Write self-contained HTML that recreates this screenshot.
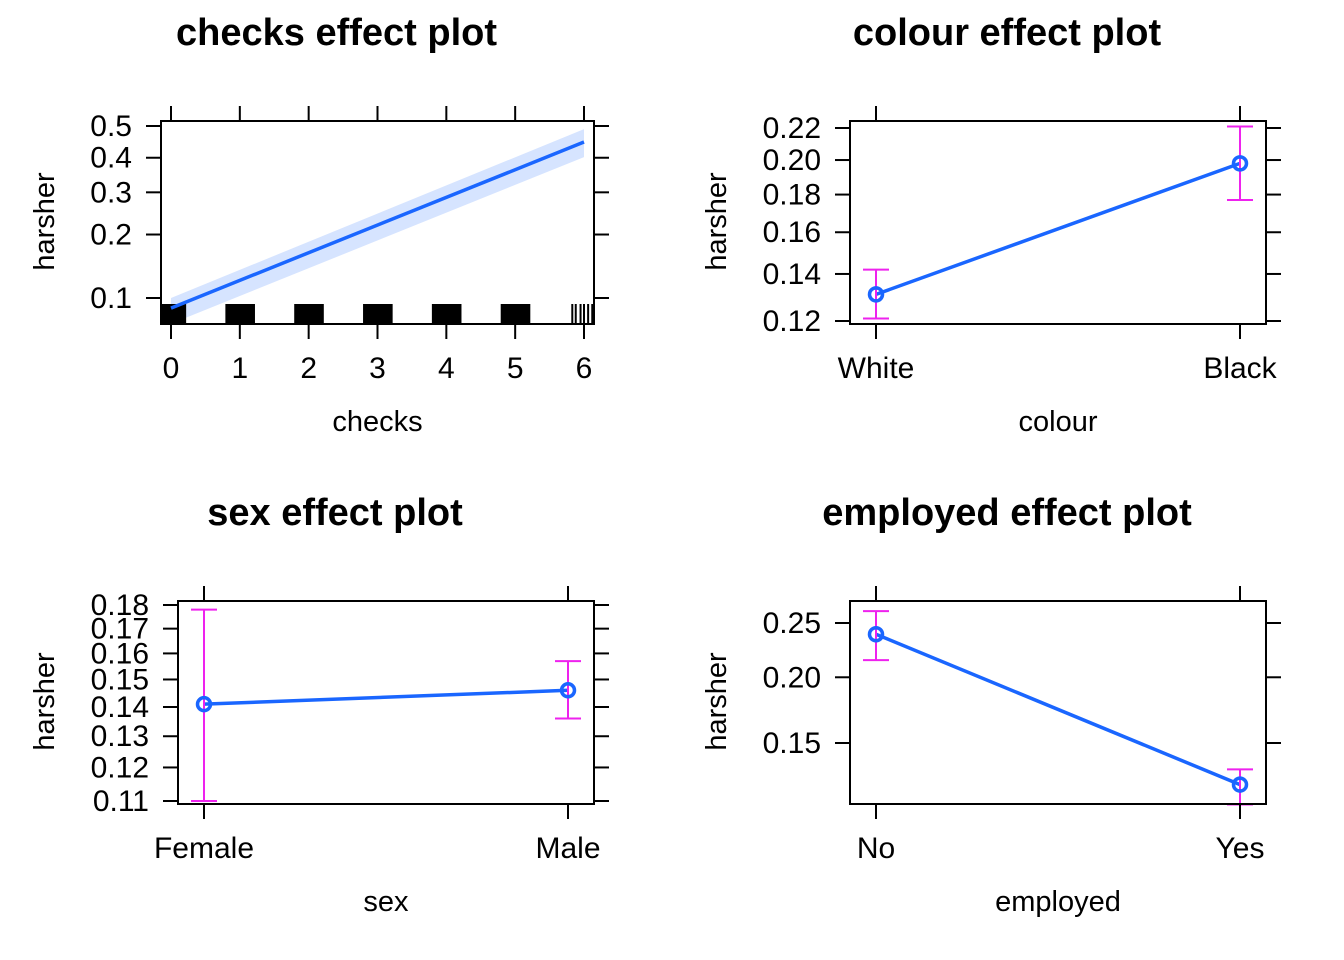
<!DOCTYPE html>
<html><head><meta charset="utf-8"><style>
body{margin:0;background:#fff}
svg{display:block;font-family:"Liberation Sans",Arial,sans-serif}
</style></head><body>
<svg id="c" width="1344" height="960"></svg>
<script>
// Panel 1: checks (continuous)
const checksTicks = [0,1,2,3,4,5,6];
const checksFitX = [0, 6];
const checksFit = [0.089, 0.449];
const checksLower = [0.074, 0.402];
const checksUpper = [0.100, 0.490];
const checksYTicks = [0.1,0.2,0.3,0.4,0.5];
const checksRugBlocks = [0,1,2,3,4,5];
const checksRugSparse = [5.83,5.88,5.95,6.0,6.06,6.12];
// Panel 2: colour
const colourCats = ["White","Black"];
const colourFit = [0.131,0.198];
const colourLo = [0.121,0.177];
const colourHi = [0.142,0.221];
const colourYTicks = [0.12,0.14,0.16,0.18,0.20,0.22];
// Panel 3: sex
const sexCats = ["Female","Male"];
const sexFit = [0.141,0.146];
const sexLo = [0.110,0.136];
const sexHi = [0.178,0.157];
const sexYTicks = [0.11,0.12,0.13,0.14,0.15,0.16,0.17,0.18];
// Panel 4: employed
const empCats = ["No","Yes"];
const empFit = [0.239,0.124];
const empLo = [0.215,0.113];
const empHi = [0.262,0.133];
const empYTicks = [0.15,0.20,0.25];

const NS="http://www.w3.org/2000/svg";
const svg=document.getElementById('c');
function el(tag,attrs,parent,text){const e=document.createElementNS(NS,tag);for(const k in attrs)e.setAttribute(k,attrs[k]);if(text!==undefined)e.textContent=text;(parent||svg).appendChild(e);return e;}
const logit=p=>Math.log(p/(1-p));
function yScale(v0,p0,v1,p1){const a=logit(v0),b=logit(v1);return v=>p0+(logit(v)-a)*(p1-p0)/(b-a);}

function frame(g,box,title,xlabel,yticks,ys,fmt,xt,xs,xlabels,name){
  const off=name==='checks'?-41:-51;
  const t=el('text',{x:(box.x0+box.x1)/2+off,y:box.y0-76,'font-size':38,'font-weight':'bold','text-anchor':'middle'},g,title);
  
  const r=el('rect',{x:box.x0,y:box.y0,width:box.x1-box.x0,height:box.y1-box.y0,fill:'none',stroke:'#000','stroke-width':2},g);
  
  yticks.forEach((v,i)=>{const y=ys(v);
    el('line',{x1:box.x0-15,x2:box.x0,y1:y,y2:y,stroke:'#000','stroke-width':2},g);
    el('line',{x1:box.x1,x2:box.x1+15,y1:y,y2:y,stroke:'#000','stroke-width':2},g);
    const tl=el('text',{x:box.x0-29,y:y+10,'font-size':30,'text-anchor':'end'},g,fmt(v));
    });
  xt.forEach((v,i)=>{const x=xs(v);
    el('line',{x1:x,x2:x,y1:box.y0-15,y2:box.y0,stroke:'#000','stroke-width':2},g);
    el('line',{x1:x,x2:x,y1:box.y1,y2:box.y1+15,stroke:'#000','stroke-width':2},g);
    const tl=el('text',{x:x,y:box.y1+54,'font-size':30,'text-anchor':'middle'},g,xlabels[i]);
    });
  const xl=el('text',{x:(box.x0+box.x1)/2,y:box.y1+107,'font-size':29,'text-anchor':'middle'},g,xlabel);
  
  const cy=(box.y0+box.y1)/2-1, cx=name==='checks'||name==='sex'?54:726;
  const yl=el('text',{x:cx,y:cy,'font-size':29,'text-anchor':'middle',transform:`rotate(-90 ${cx} ${cy})`},g,'harsher');
  
}

// Panel 1
(function(){
  const g=el('g',{});
  const box={x0:161,x1:594,y0:121,y1:324};
  const xs=v=>171+v*(584-171)/6;
  const ys=yScale(0.1,298,0.5,126);
  const bp=[];checksFitX.forEach((x,i)=>bp.push(xs(x)+','+ys(checksUpper[i])));
  for(let i=checksFitX.length-1;i>=0;i--)bp.push(xs(checksFitX[i])+','+ys(checksLower[i]));
  const band=el('polygon',{points:bp.join(' '),fill:'#d6e4ff'},g);
  
  checksRugBlocks.forEach(v=>{const x0=v===0?161:xs(v-0.21);
    const rr=el('rect',{x:x0,y:304,width:xs(v+0.22)-x0,height:20,fill:'#000'},g);
    });
  checksRugSparse.forEach(v=>{const rl=el('line',{x1:xs(v),x2:xs(v),y1:304,y2:324,stroke:'#000','stroke-width':2},g);
    });
  const pts=checksFitX.map((x,i)=>xs(x)+','+ys(checksFit[i])).join(' ');
  const ln=el('polyline',{points:pts,fill:'none',stroke:'#1a66ff','stroke-width':3.5},g);
  
  frame(g,box,'checks effect plot','checks',checksYTicks,ys,v=>v.toFixed(1),checksTicks,xs,checksTicks.map(String),'checks');
})();

function catPanel(name,title,box,cats,fit,lo,hi,yticks,ys,fmt){
  const g=el('g',{});
  const xa=box.x0+26, xb=box.x1-26;
  const xs=i=>xa+i*(xb-xa)/(cats.length-1);
  const idx=cats.map((c,i)=>i);
  const ln=el('polyline',{points:idx.map(i=>xs(i)+','+ys(fit[i])).join(' '),fill:'none',stroke:'#1a66ff','stroke-width':3.5},g);
  
  idx.forEach(i=>{const x=xs(i);
    const eb=el('path',{d:`M${x},${ys(lo[i])}V${ys(hi[i])}M${x-13},${ys(lo[i])}H${x+13}M${x-13},${ys(hi[i])}H${x+13}`,stroke:'#ee22ee','stroke-width':2,fill:'none'},g);
    
    const pt=el('circle',{cx:x,cy:ys(fit[i]),r:6.5,fill:'none',stroke:'#1a66ff','stroke-width':3.5},g);
    });
  frame(g,box,title,name,yticks,ys,fmt,idx,xs,cats,name);
}
catPanel('colour','colour effect plot',{x0:850,x1:1266,y0:121,y1:324},colourCats,colourFit,colourLo,colourHi,colourYTicks,yScale(0.12,321,0.22,128),v=>v.toFixed(2));
catPanel('sex','sex effect plot',{x0:178,x1:594,y0:601,y1:804},sexCats,sexFit,sexLo,sexHi,sexYTicks,yScale(0.11,801,0.18,605),v=>v.toFixed(2));
catPanel('employed','employed effect plot',{x0:850,x1:1266,y0:601,y1:804},empCats,empFit,empLo,empHi,empYTicks,yScale(0.15,743,0.25,623),v=>v.toFixed(2));
</script>
</body></html>
